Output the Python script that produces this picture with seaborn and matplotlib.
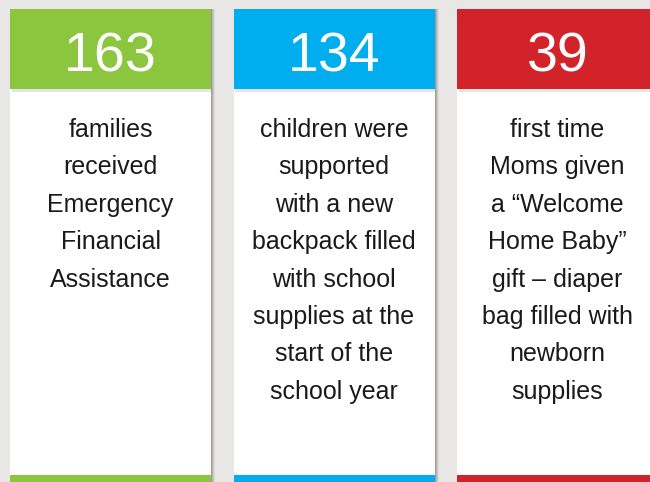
import matplotlib
matplotlib.use("Agg")
import matplotlib.pyplot as plt
import seaborn as sns

# Card data
values = ["163", "134", "39"]
descriptions = [
    ["families", "received", "Emergency", "Financial", "Assistance"],
    ["children were", "supported", "with a new", "backpack filled",
     "with school", "supplies at the", "start of the", "school year"],
    ["first time", "Moms given", "a \u201cWelcome", "Home Baby\u201d",
     "gift \u2013 diaper", "bag filled with", "newborn", "supplies"],
]
colors = ["#8cc63f", "#00aeef", "#d2232a"]

sns.set_style("white")
plt.rcParams["font.family"] = ["Liberation Sans", "DejaVu Sans"]

fig = plt.figure(figsize=(6.5, 4.82), dpi=100)
fig.patch.set_facecolor("#e8e7e5")
ax = fig.add_axes([0, 0, 1, 1])
ax.set_facecolor("#e8e7e5")

# one category step = 223.5 px, first card centred at 110.5 px
step = 223.5
ax.set_xlim(-110.5 / step, (650 - 110.5) / step)
ax.set_ylim(482, 0)
ax.axis("off")

idx = list(range(len(values)))
w = 201 / step
px = 1 / step

# soft shadow on the right of each card
for k, a in zip([4, 3, 2, 1], [0.08, 0.12, 0.18, 0.25]):
    ax.bar([i + k * px for i in idx], 473, width=w, bottom=9,
           color="#555555", alpha=a, linewidth=0)

# card body, header and bottom strip
ax.bar(idx, 473, width=w, bottom=9, color="white", linewidth=0)
ax.bar([i + 1.5 * px for i in idx], 3, width=w, bottom=89,
       color="#999999", alpha=0.25, linewidth=0)
ax.bar(idx, 80, width=w, bottom=9, color=colors, linewidth=0)
ax.bar(idx, 7, width=w, bottom=475, color=colors, linewidth=0)

for i, (v, lines) in enumerate(zip(values, descriptions)):
    ax.text(i, 71, v, ha="center", va="baseline", color="white",
            fontsize=40, family=["Liberation Sans Narrow", "Liberation Sans"])
    for j, line in enumerate(lines):
        ax.text(i, 137 + 37.4 * j, line, ha="center", va="baseline",
                color="#1a1a1a", fontsize=18)

fig.savefig("out.png", dpi=100, facecolor=fig.get_facecolor())
